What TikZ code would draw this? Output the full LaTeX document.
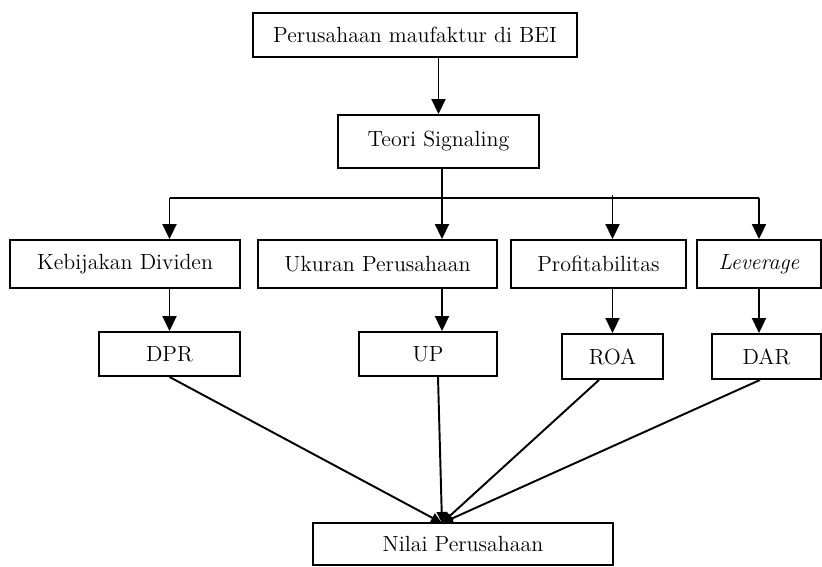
\documentclass[tikz,border=0pt]{standalone}
\usepackage{tikz}
\usetikzlibrary{arrows.meta,positioning}

\tikzset{
  kotak/.style={draw, line width=1.1pt, inner sep=0pt, font=\fontsize{12.5}{14}\selectfont},
  panah/.style={line width=1.1pt, -{Triangle[length=0.3cm,width=0.28cm]}},
  panahkecil/.style={line width=1.1pt, -{Triangle[length=0.22cm,width=0.2cm]}},
}

\begin{document}
\begin{tikzpicture}[x=0.02cm, y=-0.02cm]
		\useasboundingbox (0,0) rectangle (822,566);

		% baris atas
		\node [kotak, minimum width=6.48cm, minimum height=0.88cm] (bei) at (415,35) {Perusahaan maufaktur di BEI};
		\node [kotak, minimum width=4.02cm, minimum height=1.06cm] (teori) at (438.5,141.5) {Teori Signaling};

		% variabel
		\node [kotak, minimum width=4.6cm, minimum height=0.96cm] (kebijakan) at (125,264) {Kebijakan Dividen};
		\node [kotak, minimum width=4.78cm, minimum height=0.96cm] (ukuran) at (377.5,264) {Ukuran Perusahaan};
		\node [kotak, minimum width=3.5cm, minimum height=0.96cm] (profit) at (598.5,264) {Profitabilitas};
		\node [kotak, minimum width=2.48cm, minimum height=0.96cm] (leverage) at (759,264) {\textit{Leverage}};

		% indikator
		\node [kotak, minimum width=2.82cm, minimum height=0.88cm] (dpr) at (169.5,354) {DPR};
		\node [kotak, minimum width=2.76cm, minimum height=0.88cm] (up) at (428,354) {UP};
		\node [kotak, minimum width=2.02cm, minimum height=0.9cm] (roa) at (612.5,356.5) {ROA};
		\node [kotak, minimum width=2.18cm, minimum height=0.9cm] (dar) at (766.5,356.5) {DAR};

		\node [kotak, minimum width=6cm, minimum height=0.84cm] (nilai) at (463,544) {Nilai Perusahaan};

		\coordinate (bus) at (442,198);
		\coordinate (temu) at (442,523);

		\draw[panah] (bei.south -| teori) -- (teori.north);
		\draw[line width=1.1pt] (dpr |- bus) -- (leverage |- bus);
		\draw[panah] (dpr |- bus) -- (kebijakan.north -| dpr);
		\draw[panah] (teori.south -| bus) -- (ukuran.north -| bus);
		\draw[panah] ([yshift=0.06cm]roa |- bus) -- (profit.north -| roa);
		\draw[panah] (leverage |- bus) -- (leverage.north);

		\draw[panah] (kebijakan.south -| dpr) -- (dpr.north);
		\draw[panah] (ukuran.south -| bus) -- (up.north -| bus);
		\draw[panah] (profit.south -| roa) -- (roa.north);
		\draw[panah] (leverage.south) -- (leverage.south |- dar.north);

		\draw[panahkecil] (dpr.south) -- (temu);
		\draw[panahkecil] ([xshift=0.2cm]up.south) -- (temu);
		\draw[panahkecil] ([xshift=-0.27cm]roa.south) -- (temu);
		\draw[panahkecil] ([xshift=-0.13cm]dar.south) -- (temu);
	\end{tikzpicture}
\end{document}
